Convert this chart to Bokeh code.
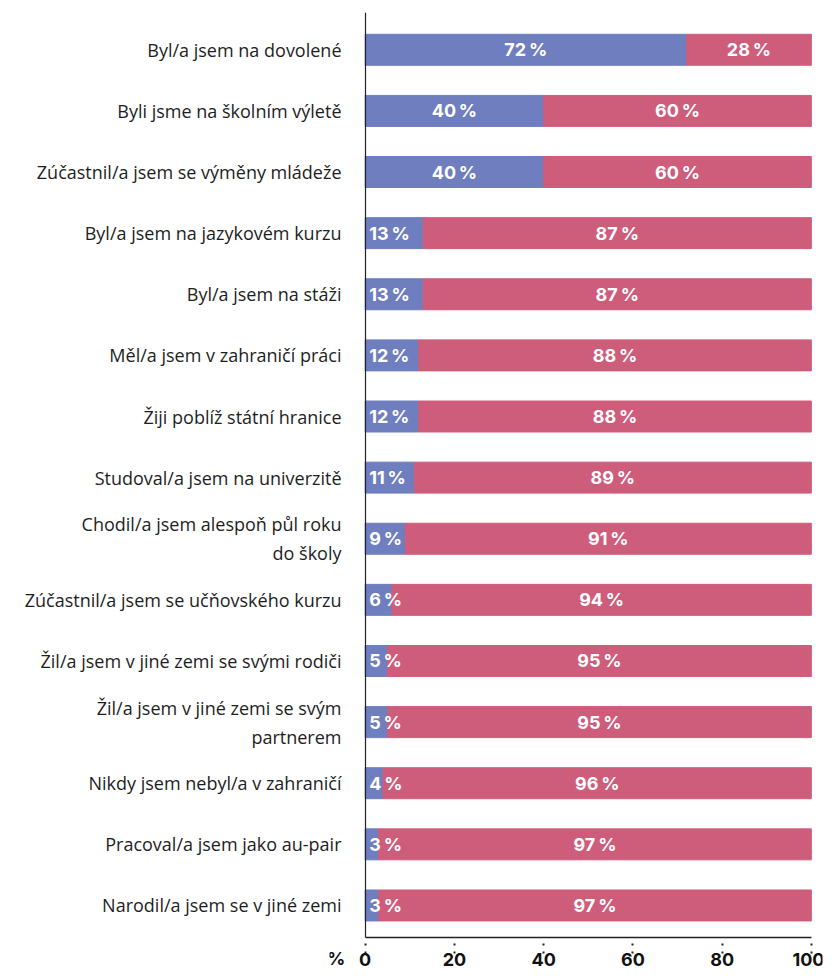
from bokeh.plotting import figure
from bokeh.models import Range1d, FixedTicker, ColumnDataSource, LinearAxis
from bokeh.core.properties import value
from bokeh.embed import file_html
from bokeh.resources import INLINE

categories = [
    "Byl/a jsem na dovolené",
    "Byli jsme na školním výletě",
    "Zúčastnil/a jsem se výměny mládeže",
    "Byl/a jsem na jazykovém kurzu",
    "Byl/a jsem na stáži",
    "Měl/a jsem v zahraničí práci",
    "Žiji poblíž státní hranice",
    "Studoval/a jsem na univerzitě",
    "Chodil/a jsem alespoň půl roku\ndo školy",
    "Zúčastnil/a jsem se učňovského kurzu",
    "Žil/a jsem v jiné zemi se svými rodiči",
    "Žil/a jsem v jiné zemi se svým\npartnerem",
    "Nikdy jsem nebyl/a v zahraničí",
    "Pracoval/a jsem jako au-pair",
    "Narodil/a jsem se v jiné zemi",
]
yes_pct = [72, 40, 40, 13, 13, 12, 12, 11, 9, 6, 5, 5, 4, 3, 3]
no_pct = [28, 60, 60, 87, 87, 88, 88, 89, 91, 94, 95, 95, 96, 97, 97]
x_ticks = [0, 20, 40, 60, 80, 100]
unit_label = "%"

BLUE = "#6e7ebf"
PINK = "#ce5d7b"
TEXT = "#1e1e1e"
NUM_FONT = "Inter"

# ---- layout constants ----
W, H = 824, 976
TOP = 12
PX_PER_ROW = 61.12
X_LO, X_HI = -8.0, 102.5
LEFT = 329

n = len(categories)
ys = list(range(n))
y_top = -0.61
y_axis_pos = n - 1 + 0.52            # where the x axis sits
y_unit_row = y_axis_pos + 0.35        # row of the x tick labels
y_bottom = y_top + (H - TOP) / PX_PER_ROW

src = ColumnDataSource(dict(
    y=ys,
    yes_end=yes_pct,
    total=[a + b for a, b in zip(yes_pct, no_pct)],
    no_mid=[a + b / 2 for a, b in zip(yes_pct, no_pct)],
    no_lbl=[f"{v}\u2009%" for v in no_pct],
))

p = figure(width=W, height=H, output_backend="svg", toolbar_location=None,
           x_range=Range1d(X_LO, X_HI), y_range=Range1d(y_bottom, y_top),
           min_border_left=LEFT, min_border_right=2, min_border_top=TOP,
           min_border_bottom=0)
p.outline_line_color = None
p.grid.grid_line_color = None

p.hbar(y="y", left=0, right="yes_end", height=0.507, color=BLUE, source=src)
p.hbar(y="y", left="yes_end", right="total", height=0.507, color=PINK, source=src)

wide = [i for i, v in enumerate(yes_pct) if v >= 20]
narrow = [i for i, v in enumerate(yes_pct) if v < 20]
src_w = ColumnDataSource(dict(x=[yes_pct[i] / 2 for i in wide], y=[ys[i] for i in wide],
                              t=[f"{yes_pct[i]}\u2009%" for i in wide]))
src_n = ColumnDataSource(dict(x=[0 for i in narrow], y=[ys[i] for i in narrow],
                              t=[f"{yes_pct[i]}\u2009%" for i in narrow]))
lbl_kw = dict(text_baseline="middle", text_color="white", text_font=value(NUM_FONT),
              text_font_style="bold", text_font_size="18px")
p.text(x="x", y="y", text="t", source=src_w, text_align="center", **lbl_kw)
p.text(x="x", y="y", text="t", source=src_n, text_align="left", x_offset=4, **lbl_kw)
p.text(x="no_mid", y="y", text="no_lbl", source=src, text_align="center", **lbl_kw)

# unit label "%" left of the x tick labels
p.text(x=[0], y=[y_unit_row], text=[unit_label], text_align="right",
       text_baseline="middle", x_offset=-20, text_color="#111111",
       text_font=value(NUM_FONT), text_font_style="bold", text_font_size="18px")

# category labels (left panel)
ya = p.yaxis[0]
ya.ticker = FixedTicker(ticks=ys)
ya.major_label_overrides = {i: c for i, c in enumerate(categories)}
ya.major_tick_line_color = None
ya.minor_tick_line_color = None
ya.axis_line_color = None
ya.major_label_text_font = "Open Sans"
ya.major_label_text_font_size = "18px"
ya.major_label_text_color = TEXT
ya.major_label_standoff = -18

# vertical axis line at x = 0
yl = LinearAxis(fixed_location=0, bounds=(y_top, y_axis_pos), ticker=FixedTicker(ticks=[]))
yl.axis_line_color = "#222222"
yl.axis_line_width = 1.2
yl.major_tick_line_color = None
yl.minor_tick_line_color = None
yl.major_label_text_color = None
p.add_layout(yl, "left")

# x axis
xa = p.xaxis[0]
xa.fixed_location = y_axis_pos
xa.bounds = (x_ticks[0], x_ticks[-1])
xa.ticker = FixedTicker(ticks=x_ticks)
xa.axis_line_color = "#222222"
xa.axis_line_width = 1.5
xa.minor_tick_line_color = None
xa.major_tick_in = 0
xa.major_tick_out = 16
xa.major_tick_line_dash = "2 6"
xa.major_tick_line_width = 2
xa.major_tick_line_color = "#222222"
xa.major_label_standoff = 0
xa.major_label_text_font = NUM_FONT
xa.major_label_text_font_style = "bold"
xa.major_label_text_font_size = "18px"
xa.major_label_text_color = "#111111"

open("out.html", "w").write(file_html(p, INLINE))
